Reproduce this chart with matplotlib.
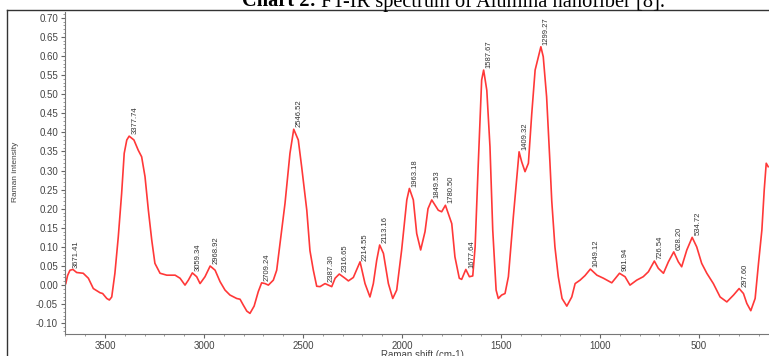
import numpy as np
import matplotlib.pyplot as plt
from matplotlib.ticker import MultipleLocator, FormatStrFormatter
from matplotlib.lines import Line2D

plt.rcParams['font.family'] = ['Liberation Sans', 'DejaVu Sans']

# spectrum (cm-1, intensity)
wavenumber = [3698, 3689, 3677, 3662, 3643, 3610, 3584, 3559, 3525, 3512,
              3491, 3478, 3466, 3450, 3433, 3416, 3403, 3390, 3378, 3354,
              3332, 3315, 3298, 3281, 3264, 3248, 3222, 3188, 3146, 3121,
              3096, 3079, 3059, 3037, 3020, 2995, 2969, 2944, 2919, 2894,
              2869, 2835, 2818, 2802, 2784, 2768, 2747, 2726, 2709, 2692,
              2675, 2650, 2633, 2616, 2591, 2566, 2547, 2524, 2507, 2481,
              2465, 2448, 2431, 2414, 2389, 2372, 2355, 2338, 2317, 2288,
              2271, 2246, 2212, 2187, 2162, 2145, 2128, 2113, 2094, 2069,
              2047, 2027, 2002, 1976, 1963, 1943, 1926, 1906, 1884, 1869,
              1850, 1817, 1800, 1781, 1749, 1733, 1711, 1699, 1678, 1660,
              1643, 1631, 1615, 1598, 1588, 1572, 1556, 1542, 1525, 1514,
              1497, 1480, 1463, 1438, 1409, 1396, 1379, 1362, 1345, 1328,
              1299, 1287, 1270, 1253, 1244, 1228, 1211, 1192, 1168, 1143,
              1126, 1101, 1076, 1049, 1016, 983, 941, 902, 874, 849,
              815, 782, 756, 726, 706, 680, 655, 628, 605, 588,
              562, 535, 512, 487, 461, 428, 394, 360, 326, 298,
              276, 259, 239, 217, 200, 183, 171, 161, 151]
intensity = [0.004, 0.025, 0.039, 0.041, 0.033, 0.031, 0.018, -0.009, -0.020, -0.022,
             -0.035, -0.039, -0.031, 0.031, 0.126, 0.240, 0.345, 0.380, 0.390, 0.380,
             0.353, 0.336, 0.284, 0.196, 0.118, 0.057, 0.031, 0.026, 0.026, 0.018,
             0.000, 0.013, 0.032, 0.022, 0.004, 0.022, 0.050, 0.039, 0.009, -0.013,
             -0.026, -0.035, -0.037, -0.052, -0.068, -0.074, -0.055, -0.017, 0.006, 0.004,
             0.000, 0.013, 0.039, 0.109, 0.214, 0.345, 0.408, 0.380, 0.310, 0.196,
             0.090, 0.039, -0.003, -0.004, 0.004, 0.000, -0.004, 0.018, 0.029, 0.018,
             0.011, 0.020, 0.061, 0.004, -0.031, 0.004, 0.065, 0.105, 0.083, 0.004,
             -0.035, -0.013, 0.092, 0.223, 0.253, 0.223, 0.135, 0.092, 0.140, 0.200,
             0.223, 0.196, 0.192, 0.209, 0.161, 0.074, 0.018, 0.015, 0.041, 0.022,
             0.024, 0.100, 0.319, 0.537, 0.563, 0.510, 0.362, 0.144, -0.013, -0.035,
             -0.026, -0.022, 0.022, 0.179, 0.349, 0.323, 0.297, 0.319, 0.449, 0.563,
             0.624, 0.598, 0.493, 0.319, 0.220, 0.100, 0.022, -0.035, -0.055, -0.031,
             0.004, 0.013, 0.025, 0.042, 0.026, 0.018, 0.006, 0.031, 0.022, 0.000,
             0.013, 0.022, 0.035, 0.063, 0.044, 0.031, 0.061, 0.087, 0.061, 0.048,
             0.092, 0.125, 0.100, 0.057, 0.031, 0.004, -0.031, -0.044, -0.026, -0.009,
             -0.022, -0.048, -0.067, -0.035, 0.057, 0.144, 0.250, 0.319, 0.310]

peak_pos = [3671.41, 3377.74, 3059.34, 2968.92, 2709.24, 2546.52, 2387.30,
            2316.65, 2214.55, 2113.16, 1963.18, 1849.53, 1780.50, 1677.64,
            1587.67, 1409.32, 1299.27, 1049.12, 901.94, 726.54, 628.20,
            534.72, 297.60]
peak_text = ['3671.41', '3377.74', '3059.34', '2968.92', '2709.24', '2546.52',
             '2387.30', '2316.65', '2214.55', '2113.16', '1963.18', '1849.53',
             '1780.50', '1677.64', '1587.67', '1409.32', '1299.27', '1049.12',
             '901.94', '726.54', '628.20', '534.72', '297.60']

W, H = 769, 356
fig = plt.figure(figsize=(W / 100, H / 100), dpi=100)
ax = fig.add_axes([65 / W, 22 / H, 1 - 65 / W, 322 / H])

ax.plot(wavenumber, intensity, color='#ff3838', lw=1.2)
ax.set_xlim(3702, 147)
ax.set_ylim(-0.128, 0.715)

wx = np.array(wavenumber)[::-1]
iy = np.array(intensity)[::-1]
for p, t in zip(peak_pos, peak_text):
    ax.annotate(t, (p, np.interp(p, wx, iy)), xytext=(1.5, 1.5),
                textcoords='offset points', rotation=90, ha='left',
                va='bottom', fontsize=5.5, color='#333333')

ax.xaxis.set_major_locator(MultipleLocator(500))
ax.xaxis.set_minor_locator(MultipleLocator(100))
ax.yaxis.set_major_locator(MultipleLocator(0.05))
ax.yaxis.set_minor_locator(MultipleLocator(0.01))
ax.yaxis.set_major_formatter(FormatStrFormatter('%.2f'))
ax.tick_params(which='major', length=3, width=0.8, color='#666666',
               labelsize=7, labelcolor='#444444', pad=2)
ax.tick_params(which='minor', length=1.5, width=0.6, color='#888888')
for s in ['top', 'right']:
    ax.spines[s].set_visible(False)
for s in ['left', 'bottom']:
    ax.spines[s].set_color('#777777')
    ax.spines[s].set_linewidth(0.8)

fig.text(15.5 / W, 1 - 172 / H, 'Raman intensity', rotation=90,
         ha='center', va='center', fontsize=6, color='#444444')
fig.text(422 / W, 1.5 / H, 'Raman shift (cm-1)', ha='center', va='center',
         fontsize=7, color='#444444')

# outer frame, cut by the image edges
fig.add_artist(Line2D([7.3 / W, 1], [1 - 9.5 / H] * 2, transform=fig.transFigure,
                      color='#333333', lw=1))
fig.add_artist(Line2D([7.3 / W] * 2, [0, 1 - 9.5 / H], transform=fig.transFigure,
                      color='#333333', lw=1))

# title, mostly cut off at the top
serif = ['Liberation Serif', 'DejaVu Serif']
t1 = fig.text(242 / W, 1 - 6.5 / H, 'Chart 2:', family=serif, fontweight='bold',
              fontsize=14.7, va='baseline', ha='left')
fig.canvas.draw()
bb = t1.get_window_extent()
fig.text(bb.x1 / W, 1 - 6.5 / H, ' FT-IR spectrum of Alumina nanofiber [8].',
         family=serif, fontsize=14.7, va='baseline', ha='left')

fig.savefig('out.png', dpi=100)
